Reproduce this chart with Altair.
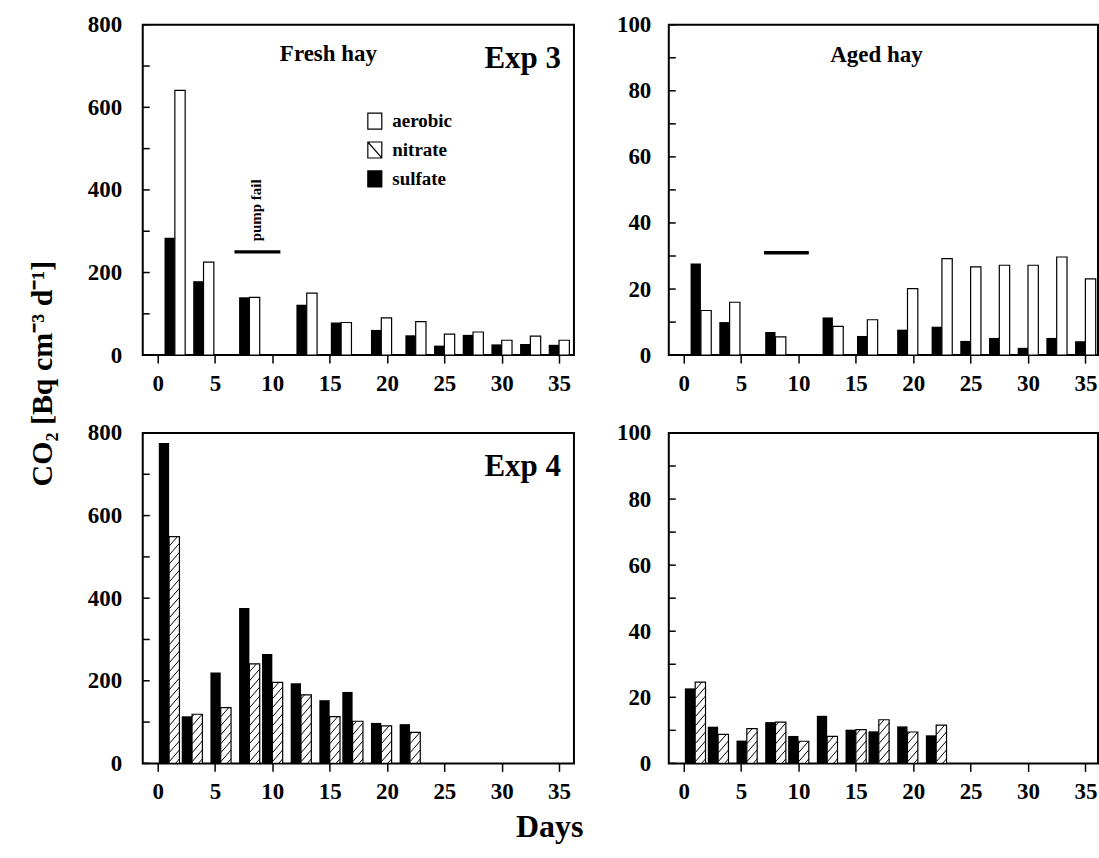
import altair as alt
import pandas as pd
import numpy as np

FONT = "Liberation Serif"
BW = 0.9          # bar width in days
H = 331
W_L, W_R = 432, 430
XDOM_L = [-1.3, 36.3]
XDOM_R = [-1.3, 36.1]

# ---- data ----
tl_day = [1.5, 4, 8, 13, 16, 19.5, 22.5, 25, 27.5, 30, 32.5, 35]
tl_sulfate = [284, 179, 140, 122, 79, 61, 48, 23, 49, 26, 27, 25]
tl_aerobic = [641, 225, 140, 150, 79, 90, 81, 51, 56, 36, 46, 36]

tr_day = [1.5, 4, 8, 13, 16, 19.5, 22.5, 25, 27.5, 30, 32.5, 35]
tr_sulfate = [27.7, 10.0, 7.0, 11.4, 5.8, 7.7, 8.6, 4.3, 5.2, 2.2, 5.2, 4.2]
tr_aerobic = [13.5, 16.0, 5.5, 8.7, 10.7, 20.1, 29.2, 26.7, 27.2, 27.2, 29.7, 23.1]

bl_day = [1, 3, 5.5, 8, 10, 12.5, 15, 17, 19.5, 22]
bl_sulfate = [776, 114, 220, 376, 265, 194, 153, 173, 98, 95]
bl_nitrate = [549, 119, 135, 241, 196, 166, 113, 102, 91, 75]

br_day = [1, 3, 5.5, 8, 10, 12.5, 15, 17, 19.5, 22]
br_sulfate = [22.7, 11.1, 6.9, 12.5, 8.3, 14.4, 10.2, 9.7, 11.2, 8.5]
br_nitrate = [24.6, 8.8, 10.5, 12.5, 6.7, 8.2, 10.2, 13.2, 9.5, 11.6]

pump_tl = {"start": [6.7], "end": [10.7], "level": [250]}
pump_tr = {"start": [7.0], "end": [10.9], "level": [31]}

x_ticks = [0, 5, 10, 15, 20, 25, 30, 35]
y_big_major = [0, 200, 400, 600, 800]
y_big_all = [0, 100, 200, 300, 400, 500, 600, 700, 800]
y_small_major = [0, 20, 40, 60, 80, 100]
y_small_all = [0, 10, 20, 30, 40, 50, 60, 70, 80, 90, 100]

legend_labels = ["aerobic", "nitrate", "sulfate"]
legend_fill = ["white", "white", "black"]
SQ = "M-0.875,-1H0.875V1H-0.875Z"
SQ_DIAG = "M-0.875,-1H0.875V1H-0.875Z M-0.875,-1L0.875,1"
legend_shape = [SQ, SQ_DIAG, SQ]


def hatch_segments(days, vals, xdom, width, ymax, spacing=9.0, slope=1.15):
    ppd = width / (xdom[1] - xdom[0])
    ppu = H / ymax
    rows = []
    for d, v in zip(days, vals):
        bw = BW * ppd
        bh = v * ppu
        c = -slope * bw + spacing * 0.5
        while c < bh:
            t0 = max(0.0, -c / slope)
            t1 = min(bw, (bh - c) / slope)
            if t1 - t0 > 0.3:
                rows.append({"x": d + t0 / ppd, "x2": d + t1 / ppd,
                             "y": (c + slope * t0) / ppu, "y2": (c + slope * t1) / ppu})
            c += spacing
    return pd.DataFrame(rows)


def panel(days, black_vals, second_vals, hatched, ymax, ymajor, yall, width, xdom,
          texts, pump=None, legend=False, ylabpad=21):
    xs = alt.Scale(domain=xdom, nice=False, zero=False)
    ys = alt.Scale(domain=[0, ymax], nice=False)
    xaxis = alt.Axis(values=x_ticks, tickSize=8, tickWidth=1.5, tickColor="black",
                     labelPadding=9, domain=False, grid=False, title=None,
                     labelFont=FONT, labelFontSize=23, labelFontWeight="bold", labelColor="black")
    yaxis = alt.Axis(values=ymajor, ticks=False, domain=False, grid=False, title=None,
                     labelPadding=ylabpad, labelFont=FONT, labelFontSize=23,
                     labelFontWeight="bold", labelColor="black")
    df = pd.DataFrame({"day": days, "black": black_vals, "second": second_vals})

    black = alt.Chart(df).transform_calculate(x0=f"datum.day - {BW}").mark_rect(
        color="black").encode(
        x=alt.X("x0:Q", scale=xs, axis=xaxis),
        x2="day:Q",
        y=alt.Y("black:Q", scale=ys, axis=yaxis),
        y2=alt.datum(0),
    )
    second = alt.Chart(df).transform_calculate(x1=f"datum.day + {BW}").mark_rect(
        fill="white", stroke="black", strokeWidth=1.2).encode(
        x=alt.X("day:Q", scale=xs, axis=xaxis),
        x2="x1:Q",
        y=alt.Y("second:Q", scale=ys, axis=yaxis),
        y2=alt.datum(0),
    )
    layers = [black, second]
    if hatched:
        hd = hatch_segments(days, second_vals, xdom, width, ymax)
        layers.append(alt.Chart(hd).mark_rule(color="black", strokeWidth=1).encode(
            x=alt.X("x:Q", scale=xs, axis=xaxis), x2="x2:Q",
            y=alt.Y("y:Q", scale=ys, axis=yaxis), y2="y2:Q"))
    tk = pd.DataFrame({"t": yall})
    layers.append(alt.Chart(tk).mark_rule(color="black", strokeWidth=1.5).encode(
        y=alt.Y("t:Q", scale=ys, axis=yaxis), x=alt.value(0), x2=alt.value(7)))
    if pump is not None:
        pdf = pd.DataFrame(pump)
        layers.append(alt.Chart(pdf).mark_rule(color="black", strokeWidth=3.5).encode(
            x=alt.X("start:Q", scale=xs, axis=xaxis), x2="end:Q",
            y=alt.Y("level:Q", scale=ys, axis=yaxis)))
    for t in texts:
        txt, px, py, size, align, angle, baseline = t
        layers.append(alt.Chart(pd.DataFrame({"label": [txt]})).mark_text(
            font=FONT, fontWeight="bold", fontSize=size, align=align, angle=angle,
            baseline=baseline, color="black").encode(
            text="label:N", x=alt.value(px), y=alt.value(py)))
    if legend:
        leg = alt.Legend(orient="none", legendX=223, legendY=87, title=None,
                         symbolSize=256, symbolStrokeWidth=1.2, labelFont=FONT,
                         labelFontSize=19, labelFontWeight="bold", labelColor="black",
                         labelOffset=8, rowPadding=8, padding=0)
        ldf = pd.DataFrame({"treatment": legend_labels})
        layers.append(alt.Chart(ldf).transform_filter("false").mark_point(
            filled=True, opacity=1).encode(
            fill=alt.Fill("treatment:N", scale=alt.Scale(domain=legend_labels, range=legend_fill), legend=leg),
            shape=alt.Shape("treatment:N", scale=alt.Scale(domain=legend_labels, range=legend_shape), legend=leg),
            stroke=alt.Stroke("treatment:N", scale=alt.Scale(domain=legend_labels, range=["black"] * 3), legend=leg),
        ))
    return alt.layer(*layers).properties(width=width, height=H)


tl = panel(tl_day, tl_sulfate, tl_aerobic, False, 800, y_big_major, y_big_all, W_L, XDOM_L,
           [("Fresh hay", 186, 36, 23, "center", 0, "alphabetic"),
            ("Exp 3", 419, 43, 31, "right", 0, "alphabetic"),
            ("pump fail", 113, 186, 15, "center", 270, "middle")],
           pump=pump_tl, legend=True)
tr = panel(tr_day, tr_sulfate, tr_aerobic, False, 100, y_small_major, y_small_all, W_R, XDOM_R,
           [("Aged hay", 208, 37, 23, "center", 0, "alphabetic")], pump=pump_tr, ylabpad=18)
bl = panel(bl_day, bl_sulfate, bl_nitrate, True, 800, y_big_major, y_big_all, W_L, XDOM_L,
           [("Exp 4", 419, 43, 31, "right", 0, "alphabetic")])
br = panel(br_day, br_sulfate, br_nitrate, True, 100, y_small_major, y_small_all, W_R, XDOM_R, [],
           ylabpad=18)

RES = dict(fill="independent", shape="independent", stroke="independent")
top = alt.hconcat(tl, tr, spacing=40).resolve_scale(**RES)
bottom = alt.hconcat(bl, br, spacing=40).resolve_scale(**RES)
grid = alt.vconcat(top, bottom, spacing=25).resolve_scale(**RES)

with_y = alt.hconcat(grid).resolve_scale(**RES).properties(
    title=alt.TitleParams("CO₂ [Bq cm⁻³ d⁻¹]", orient="left", anchor="middle", font=FONT,
                          fontSize=30, fontWeight="bold", color="black", offset=28, dx=35))
chart = alt.vconcat(with_y).resolve_scale(**RES).properties(
    title=alt.TitleParams("Days", orient="bottom", anchor="middle", font=FONT, fontSize=32,
                          fontWeight="bold", color="black", offset=8, dx=-14),
    padding={"left": 28, "top": 12, "right": 0, "bottom": 0},
).configure_view(stroke="black", strokeWidth=2).configure_concat(spacing=0)

chart.save("out.html", embed_options={"renderer": "svg", "actions": False})
